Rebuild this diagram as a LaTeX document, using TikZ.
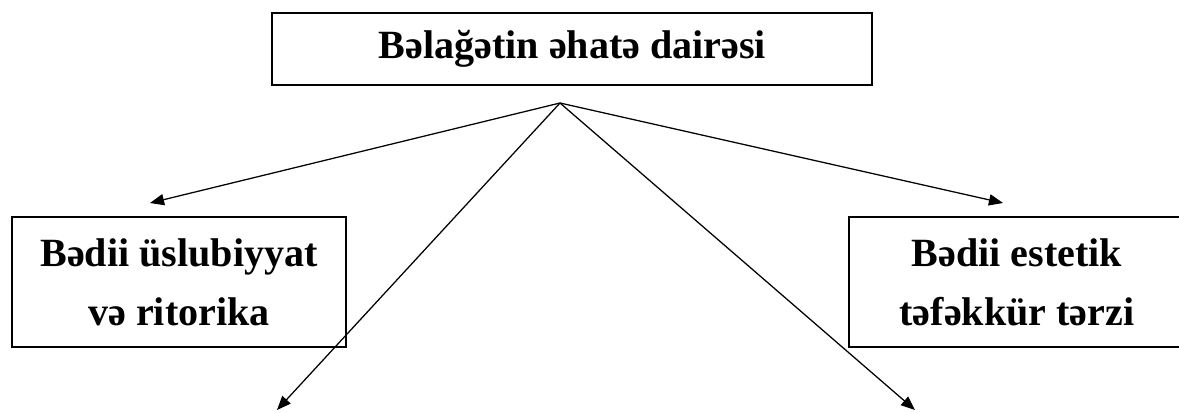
\documentclass[tikz,border=0pt]{standalone}
\usepackage{fontspec}
\setmainfont{Liberation Serif}
\usetikzlibrary{arrows.meta}

\begin{document}
\begin{tikzpicture}[line width=0.9pt,>={Triangle[length=10pt,width=8pt]},
  box/.style={draw,line width=1.4pt,align=center,inner sep=0pt,
    font=\fontsize{28.5}{42}\selectfont\bfseries}]
\useasboundingbox (0,0) rectangle (29.475,-10.3);
% ================= boxes =================
\node[box,minimum width=15.0cm,minimum height=1.8cm] (top) at (14.31,-1.225)
  {Bəlağətin əhatə dairəsi};
\node[box,minimum width=8.35cm,minimum height=3.25cm] (left) at (4.475,-7.05)
  {Bədii üslubiyyat\\və ritorika};
\node[box,minimum width=8.4cm,minimum height=3.25cm] (right) at (25.425,-7.05)
  {Bədii estetik\\təfəkkür tərzi};
% ================= arrows =================
\coordinate (hub) at (14.0,-2.575);
\coordinate (tipL) at (3.75,-5.075);
\coordinate (tipR) at (25.075,-5.075);
\coordinate (downL) at (6.925,-10.25);
\coordinate (downR) at (22.875,-10.25);
\foreach \t in {tipL,tipR,downL,downR}
  \draw[->] (hub) -- (\t);
\end{tikzpicture}
\end{document}
